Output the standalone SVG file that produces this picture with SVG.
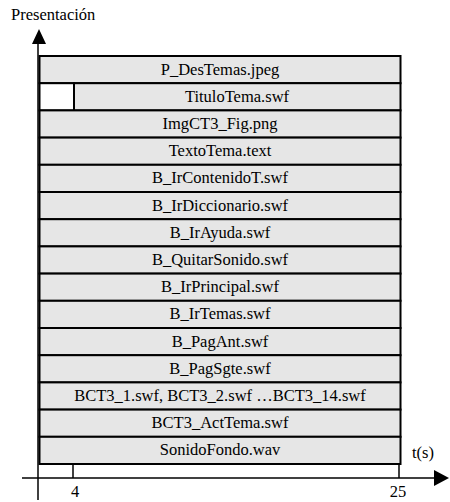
<svg xmlns="http://www.w3.org/2000/svg" width="450" height="502" viewBox="0 0 450 502">
<g font-family="Liberation Serif, Times New Roman, serif" font-size="16.5" fill="#000">
<text x="11" y="20">Presentación</text>
<g fill="#e6e6e6" stroke="#000" stroke-width="2">
<g id="n1"><rect x="39.5" y="56" width="361" height="27.2"/></g>
<g id="n2"><rect x="39.5" y="83.2" width="34.5" height="27.2" fill="#fff"/><rect x="74" y="83.2" width="326.5" height="27.2"/></g>
<g id="n3"><rect x="39.5" y="110.4" width="361" height="27.2"/></g>
<g id="n4"><rect x="39.5" y="137.6" width="361" height="27.2"/></g>
<g id="n5"><rect x="39.5" y="164.8" width="361" height="27.2"/></g>
<g id="n6"><rect x="39.5" y="192" width="361" height="27.2"/></g>
<g id="n7"><rect x="39.5" y="219.2" width="361" height="27.2"/></g>
<g id="n8"><rect x="39.5" y="246.4" width="361" height="27.2"/></g>
<g id="n9"><rect x="39.5" y="273.6" width="361" height="27.2"/></g>
<g id="n10"><rect x="39.5" y="300.8" width="361" height="27.2"/></g>
<g id="n11"><rect x="39.5" y="328" width="361" height="27.2"/></g>
<g id="n12"><rect x="39.5" y="355.2" width="361" height="27.2"/></g>
<g id="n13"><rect x="39.5" y="382.4" width="361" height="27.2"/></g>
<g id="n14"><rect x="39.5" y="409.6" width="361" height="27.2"/></g>
<g id="n15"><rect x="39.5" y="436.8" width="361" height="27.2"/></g>
</g>
<g text-anchor="middle">
<text x="220" y="74.5">P_DesTemas.jpeg</text>
<text x="237" y="101.7">TituloTema.swf</text>
<text x="220" y="128.9">ImgCT3_Fig.png</text>
<text x="220" y="156.1">TextoTema.text</text>
<text x="220" y="183.3">B_IrContenidoT.swf</text>
<text x="220" y="210.5">B_IrDiccionario.swf</text>
<text x="220" y="237.7">B_IrAyuda.swf</text>
<text x="220" y="264.9">B_QuitarSonido.swf</text>
<text x="220" y="292.1">B_IrPrincipal.swf</text>
<text x="220" y="319.3">B_IrTemas.swf</text>
<text x="220" y="346.5">B_PagAnt.swf</text>
<text x="220" y="373.7">B_PagSgte.swf</text>
<text x="220" y="400.9">BCT3_1.swf, BCT3_2.swf …BCT3_14.swf</text>
<text x="220" y="428.1">BCT3_ActTema.swf</text>
<text x="220" y="455.3">SonidoFondo.wav</text>
<text x="75" y="497">4</text>
<text x="398" y="497">25</text>
</g>
<text x="412" y="458">t(s)</text>
</g>
<g id="connectors" stroke="#000" stroke-width="1.5" fill="none">
<line x1="38" y1="42" x2="38" y2="500"/>
<polygon points="39,29 32,44 46,44" fill="#000" stroke="none"/>
<line x1="22" y1="478" x2="436" y2="478"/>
<polygon points="449,478 434,470 434,486" fill="#000" stroke="none"/>
<line x1="73" y1="464" x2="73" y2="478"/>
<line x1="399" y1="464" x2="399" y2="478"/>
</g>
</svg>
